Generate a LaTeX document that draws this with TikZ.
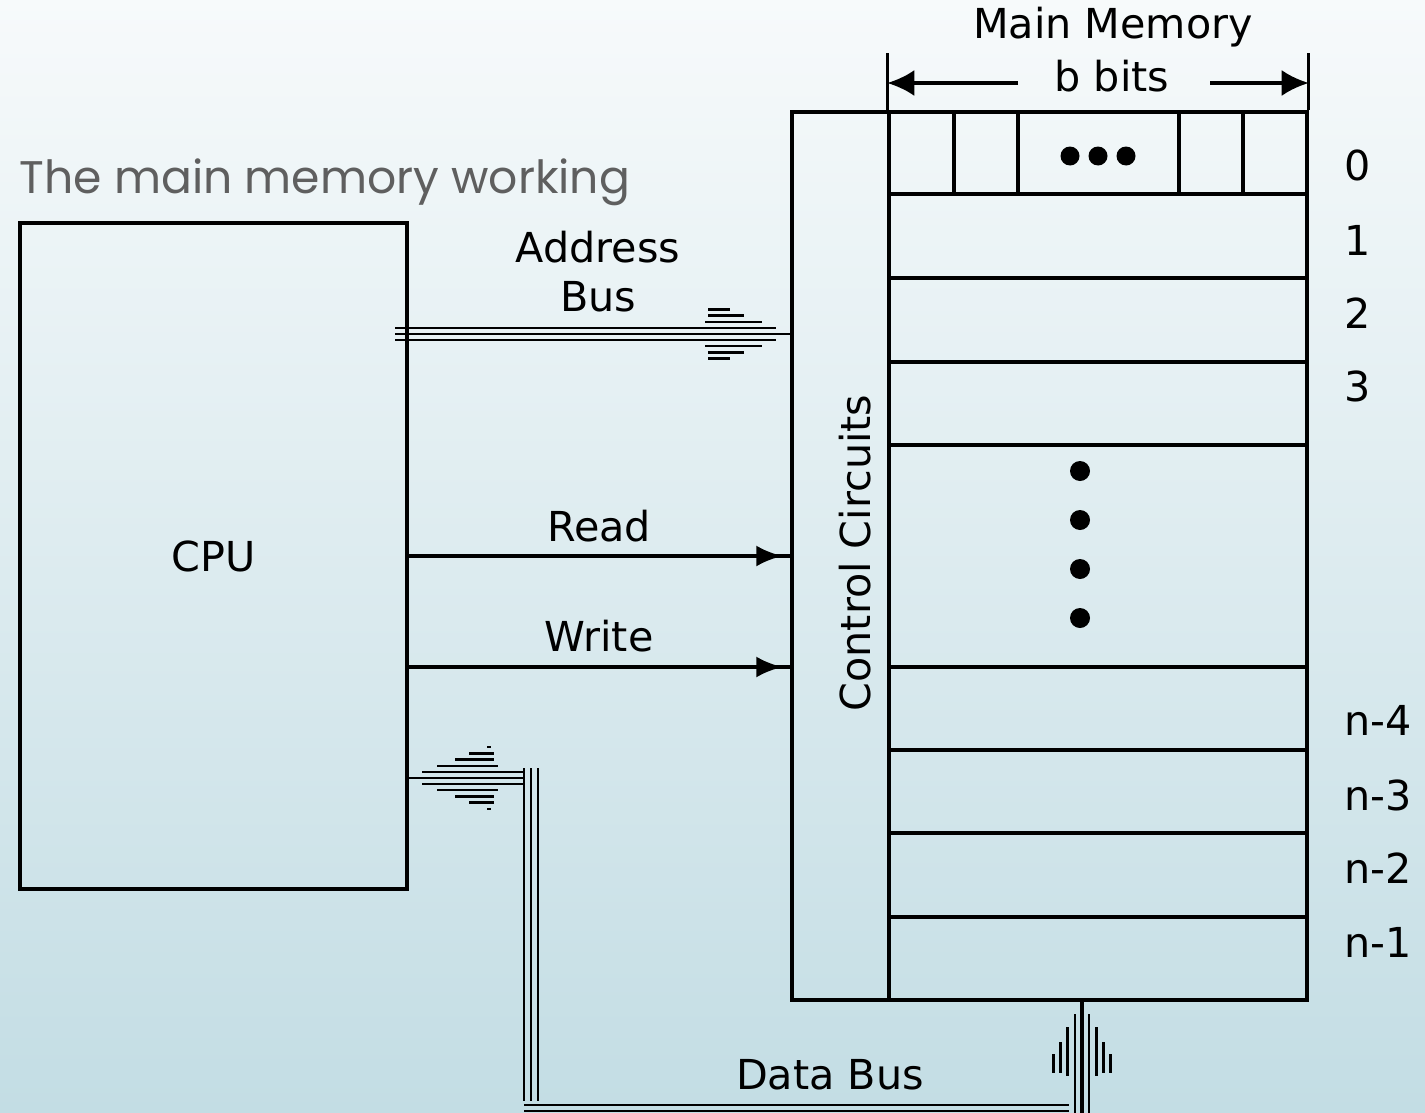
\documentclass[tikz,border=0pt]{standalone}
\usepackage{fontspec}
\setmainfont{DejaVu Sans}
\newfontfamily\titlefont{Poppins}
\usetikzlibrary{arrows.meta,decorations.markings}

\definecolor{bgtop}{RGB}{247,250,251}
\definecolor{bgbottom}{RGB}{195,221,228}
\definecolor{titlegray}{RGB}{95,95,95}

\begin{document}
\begin{tikzpicture}[x=0.02cm, y=-0.02cm, line width=2pt,
    every node/.style = {font=\fontsize{23.5}{28}\selectfont, inner sep=0pt},
    box/.style = {draw, rectangle, line width=2pt},
    bus/.style = {line width=1.6pt},
    sig/.style = {postaction=decorate, decoration={markings,
        mark=at position -0.16cm with {\arrow{Latex[length=0.52cm,width=0.42cm]}}}},
    dim/.style = {-{Latex[length=0.54cm,width=0.52cm]}}]

  % background
  \shade[top color=bgtop, bottom color=bgbottom] (0,0) rectangle (1425,1112);
  \useasboundingbox (0,0) rectangle (1425,1112);

  \node[anchor=base west, font=\titlefont\fontsize{26}{32}\selectfont,
    text=titlegray] (title) at (18,193) {The main memory working};

  % blocks
  \node[box, minimum width=7.74cm, minimum height=13.32cm] (cpu) at (213.5,556) {CPU};
  \node[box, minimum width=1.94cm, minimum height=17.76cm] (ctrl) at (840.5,556) {};
  \node[box, minimum width=8.36cm, minimum height=17.76cm] (mem) at (1098,556) {};
  \node[rotate=90] (ctrl-text) at (855,553) {Control Circuits};

  % memory words
  \foreach \y in {194,278,362,445,667,750,833,917}
    \draw (mem.west |- 0,\y) -- (mem.east |- 0,\y);
  \foreach \x in {954,1018,1179,1243}
    \draw (\x,0 |- mem.north) -- (\x,194);
  \foreach \x in {1070,1098,1126}
    \fill (\x,156) circle [radius=0.19cm];
  \foreach \y in {471,520,569,618}
    \fill (1080,\y) circle [radius=0.2cm];
  \foreach \t/\y in {0/165,1/240,2/313,3/386,n-4/720,n-3/795,n-2/868,n-1/942}
    \node[anchor=west] (row-\t) at (1343,\y) {\t};

  % word width
  \node (mm) at (1113,27) {Main Memory};
  \node (bits) at (1112,76) {b bits};
  \draw (mem.north west) -- ++(0,-57);
  \draw (mem.north east) -- ++(0,-57);
  \draw[dim] (1018,83) -- (mem.north west |- 0,83);
  \draw[dim] (1210,83) -- (mem.north east |- 0,83);

  % address bus
  \node[align=center] (addr) at (598,272) {Address\\Bus};
  \coordinate (ab) at (395,334);
  \draw[bus] (ab) -- (ctrl.west |- ab);
  \draw[bus] (395,328) -- (776,328);
  \draw[bus] (395,340) -- (776,340);
  \foreach \d/\a/\b in {12/705/762, 18.5/708/744, 24.5/708/730} {
    \draw[bus] (\a,334-\d) -- (\b,334-\d);
    \draw[bus] (\a,334+\d) -- (\b,334+\d);
  }

  % control lines
  \node (read) at (599,526) {Read};
  \draw[sig] (cpu.east |- 0,556) -- (ctrl.west |- 0,556);
  \node (write) at (599,636) {Write};
  \draw[sig] (cpu.east |- 0,667) -- (ctrl.west |- 0,667);

  % data bus
  \draw[bus] (cpu.east |- 0,778) -- (524,778);
  \draw[bus] (422,772) -- (524,772);
  \draw[bus] (422,784) -- (524,784);
  \foreach \d/\a/\b in {12/437/498, 18.5/455/494, 24.5/469/494, 31/487/491} {
    \draw[bus] (\a,778-\d) -- (\b,778-\d);
    \draw[bus] (\a,778+\d) -- (\b,778+\d);
  }
  \foreach \x in {524,531,538}
    \draw[bus] (\x,768) -- (\x,1101);
  \foreach \y in {1105,1111,1117}
    \draw[bus] (524,\y) -- (1069,\y);
  \node (data) at (830,1075) {Data Bus};
  \draw[line width=2.4pt] (1082,0 |- mem.south) -- (1082,1120);
  \foreach \x in {1075,1089}
    \draw[bus] (\x,1014) -- (\x,1120);
  \foreach \d/\a/\b in {14.5/1027/1076, 21.5/1042/1073, 28.5/1054/1073} {
    \draw[bus] (1082-\d,\a) -- (1082-\d,\b);
    \draw[bus] (1082+\d,\a) -- (1082+\d,\b);
  }
\end{tikzpicture}
\end{document}
